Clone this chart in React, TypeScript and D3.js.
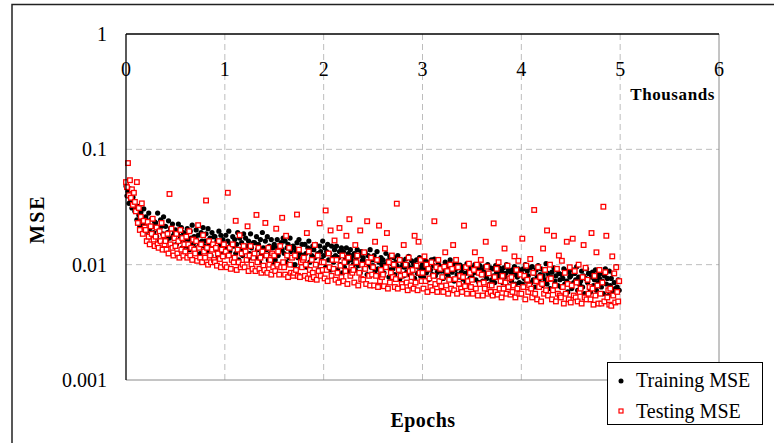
import React from "react";
import * as d3 from "d3";

// MSE values in units of 1e-4, one row per 100 epochs (sampled every 10 epochs)
const trainingMSE: number[] = [
  480, 395, 430, 340, 455, 360, 310, 385, 330, 290,
  300, 245, 320, 270, 215, 285, 250, 230, 305, 220,
  260, 195, 240, 280, 205, 175, 250, 215, 190, 235,
  230, 175, 280, 200, 160, 245, 215, 185, 260, 170,
  215, 160, 190, 240, 170, 205, 150, 225, 180, 195,
  200, 150, 185, 225, 160, 175, 210, 140, 190, 165,
  185, 145, 205, 165, 135, 195, 170, 220, 150, 175,
  170, 200, 140, 180, 155, 125, 190, 160, 210, 145,
  160, 185, 130, 205, 150, 170, 120, 190, 140, 175,
  175, 135, 160, 115, 195, 145, 180, 125, 165, 150,
  140, 180, 120, 160, 195, 130, 150, 115, 175, 145,
  165, 125, 150, 190, 110, 170, 135, 155, 120, 185,
  130, 170, 145, 110, 160, 125, 185, 140, 115, 155,
  155, 115, 175, 135, 150, 105, 165, 125, 190, 140,
  120, 160, 135, 175, 110, 145, 125, 165, 140, 105,
  150, 110, 140, 165, 120, 130, 100, 155, 135, 170,
  125, 160, 105, 140, 150, 115, 170, 130, 100, 145,
  140, 100, 130, 155, 115, 165, 125, 95, 150, 120,
  110, 150, 125, 95, 140, 160, 105, 135, 120, 145,
  135, 115, 150, 100, 125, 90, 145, 130, 110, 160,
  120, 140, 95, 130, 150, 110, 125, 90, 145, 115,
  105, 135, 120, 145, 90, 115, 130, 100, 140, 85,
  130, 95, 115, 140, 105, 125, 88, 135, 110, 120,
  100, 125, 90, 115, 135, 98, 120, 85, 130, 108,
  115, 92, 128, 105, 82, 120, 100, 135, 95, 110,
  98, 120, 88, 110, 130, 92, 105, 80, 115, 100,
  110, 85, 100, 125, 95, 108, 78, 118, 90, 102,
  92, 115, 82, 105, 98, 120, 88, 75, 110, 96,
  105, 80, 95, 112, 86, 100, 118, 82, 94, 108,
  88, 102, 76, 98, 110, 84, 95, 115, 80, 92,
  100, 78, 92, 108, 85, 96, 74, 104, 90, 110,
  82, 98, 112, 80, 94, 86, 102, 72, 96, 88,
  95, 76, 88, 105, 84, 98, 80, 92, 110, 74,
  86, 100, 72, 90, 104, 82, 94, 78, 99, 85,
  92, 75, 96, 84, 70, 102, 86, 94, 76, 90,
  78, 95, 85, 100, 74, 88, 92, 70, 98, 82,
  90, 72, 86, 96, 80, 76, 100, 84, 68, 94,
  74, 92, 80, 70, 98, 86, 78, 95, 82, 72,
  88, 70, 94, 78, 84, 100, 66, 90, 76, 86,
  72, 90, 82, 96, 68, 84, 78, 92, 70, 88,
  85, 68, 92, 76, 100, 72, 88, 80, 66, 94,
  70, 96, 74, 84, 64, 90, 78, 98, 72, 82,
  92, 66, 80, 88, 74, 102, 68, 84, 76, 62,
  78, 86, 60, 94, 72, 80, 90, 66, 84, 74,
  64, 82, 76, 92, 68, 88, 72, 58, 86, 78,
  80, 62, 90, 70, 84, 74, 96, 60, 78, 68,
  72, 88, 64, 80, 56, 76, 92, 70, 84, 62,
  58, 78, 86, 66, 74, 90, 60, 82, 70, 76,
  84, 64, 72, 56, 80, 92, 68, 76, 54, 88,
  66, 76, 58, 84, 70, 62, 96, 64, 74, 60,
];

const testingMSE: number[] = [
  520, 470, 760, 400, 540, 380, 450, 330, 420, 350,
  290, 520, 230, 310, 200, 260, 340, 185, 240, 210,
  200, 160, 235, 175, 150, 215, 185, 250, 165, 145,
  175, 210, 150, 140, 195, 160, 230, 135, 180, 150,
  160, 135, 185, 125, 410, 150, 205, 140, 120, 170,
  145, 185, 125, 160, 115, 200, 135, 170, 120, 150,
  130, 175, 115, 150, 195, 120, 140, 110, 165, 135,
  125, 160, 108, 220, 140, 115, 150, 105, 180, 130,
  115, 360, 140, 100, 160, 120, 105, 135, 150, 110,
  105, 140, 98, 125, 160, 112, 95, 135, 118, 150,
  100, 130, 95, 420, 120, 140, 92, 110, 150, 105,
  115, 240, 90, 135, 105, 180, 95, 125, 100, 145,
  95, 130, 110, 215, 88, 120, 145, 100, 92, 115,
  125, 88, 270, 105, 140, 92, 115, 85, 130, 98,
  90, 230, 120, 85, 140, 100, 110, 82, 125, 95,
  120, 88, 205, 100, 130, 82, 145, 95, 255, 105,
  95, 82, 178, 120, 78, 140, 100, 85, 115, 80,
  85, 120, 90, 272, 80, 135, 78, 105, 95, 110,
  115, 80, 100, 188, 76, 130, 90, 75, 110, 85,
  78, 148, 100, 74, 120, 88, 228, 80, 105, 90,
  105, 76, 295, 90, 72, 125, 95, 198, 80, 110,
  92, 162, 74, 110, 85, 70, 208, 98, 78, 120,
  72, 105, 88, 178, 68, 115, 248, 80, 95, 85,
  90, 70, 148, 105, 120, 66, 85, 198, 75, 100,
  74, 128, 92, 68, 238, 105, 80, 66, 115, 82,
  95, 66, 158, 80, 110, 64, 218, 72, 90, 78,
  82, 65, 138, 95, 188, 62, 105, 70, 85, 120,
  78, 100, 64, 75, 338, 62, 90, 110, 80, 68,
  64, 148, 82, 100, 70, 60, 115, 88, 66, 78,
  90, 62, 178, 70, 98, 60, 158, 85, 110, 72,
  85, 62, 118, 72, 100, 58, 92, 76, 64, 105,
  60, 80, 238, 68, 95, 58, 110, 72, 92, 65,
  78, 58, 96, 128, 66, 88, 56, 74, 100, 62,
  92, 148, 60, 75, 110, 56, 95, 68, 80, 62,
  58, 78, 218, 65, 95, 56, 72, 102, 85, 64,
  74, 56, 90, 128, 62, 100, 54, 85, 68, 110,
  82, 54, 70, 62, 158, 96, 56, 84, 66, 58,
  66, 54, 228, 78, 58, 92, 55, 105, 62, 72,
  52, 80, 62, 138, 70, 56, 98, 64, 76, 55,
  78, 58, 66, 118, 52, 90, 62, 108, 56, 82,
  56, 168, 64, 80, 50, 98, 74, 58, 66, 112,
  62, 52, 85, 298, 56, 72, 50, 95, 64, 78,
  48, 68, 138, 56, 90, 60, 198, 54, 75, 100,
  76, 50, 60, 178, 66, 48, 92, 56, 120, 54,
  52, 108, 64, 46, 85, 56, 158, 68, 50, 95,
  47, 66, 168, 54, 88, 52, 70, 48, 100, 58,
  62, 46, 78, 148, 52, 94, 50, 74, 56, 64,
  50, 188, 62, 45, 80, 54, 128, 66, 46, 90,
  56, 46, 70, 318, 48, 86, 178, 52, 60, 45,
  62, 44, 118, 54, 84, 47, 95, 58, 48, 72,
];

const xTicks = [0, 1, 2, 3, 4, 5, 6];
const yTicks = [0.001, 0.01, 0.1, 1];
const yTickLabels = ["0.001", "0.01", "0.1", "1"];
const seriesNames = ["Training MSE", "Testing MSE"];

const serif = "'Liberation Serif', 'Times New Roman', 'DejaVu Serif', serif";

export default function App() {
  const left = 126, right = 719, top = 34, bottom = 380;

  const x = d3.scaleLinear().domain([0, 6]).range([left, right]);
  const y = d3.scaleLog().domain([0.001, 1]).range([bottom, top]);

  // epochs in thousands, one sample every 10 epochs
  const epoch = (i: number) => (i * 10) / 1000;

  return (
    <svg width={774} height={443} style={{ position: "absolute", left: 0, top: 0, background: "#fff" }}>
      {/* outer chart frame */}
      <rect x={12} y={4.5} width={800} height={480} fill="#fff" stroke="#222" strokeWidth={1.5} />

      {/* grid */}
      {yTicks.slice(1, 3).map((t) => (
        <line key={"gy" + t} x1={left} x2={right} y1={y(t)} y2={y(t)} stroke="#bdbdbd" strokeDasharray="6,4" />
      ))}
      {xTicks.slice(1, 6).map((t) => (
        <line key={"gx" + t} x1={x(t)} x2={x(t)} y1={top} y2={bottom} stroke="#bdbdbd" strokeDasharray="6,4" />
      ))}

      {/* plot area border */}
      <line x1={right} x2={right} y1={top} y2={bottom} stroke="#8a8a8a" />
      <line x1={left} x2={right} y1={bottom} y2={bottom} stroke="#8a8a8a" />

      {/* training points */}
      <g>
        {trainingMSE.map((v, i) => (
          <circle key={"tr" + i} cx={x(epoch(i))} cy={y(v / 10000)} r={2.6} fill="#000" />
        ))}
      </g>
      {/* testing points */}
      <g>
        {testingMSE.map((v, i) => (
          <rect
            key={"te" + i}
            x={x(epoch(i)) - 2.3}
            y={y(v / 10000) - 2.3}
            width={4.6}
            height={4.6}
            fill="#fff"
            stroke="#ff0000"
            strokeWidth={1.3}
          />
        ))}
      </g>

      {/* axes */}
      <line x1={left} x2={right} y1={top} y2={top} stroke="#000" strokeWidth={1.3} />
      <line x1={left} x2={left} y1={top} y2={bottom} stroke="#000" strokeWidth={1.3} />

      {xTicks.map((t) => (
        <text key={"xt" + t} x={x(t)} y={76} textAnchor="middle" fontFamily={serif} fontSize={20}>
          {t}
        </text>
      ))}
      {yTicks.map((t, i) => (
        <text key={"yt" + t} x={107} y={y(t)} dy="0.35em" textAnchor="end" fontFamily={serif} fontSize={20}>
          {yTickLabels[i]}
        </text>
      ))}

      <text x={715} y={100} textAnchor="end" fontFamily={serif} fontSize={17} fontWeight="bold" letterSpacing={0.6}>
        Thousands
      </text>
      <text
        transform="translate(44,219) rotate(-90)"
        textAnchor="middle"
        fontFamily={serif}
        fontSize={20}
        fontWeight="bold"
        letterSpacing={2}
      >
        MSE
      </text>
      <text x={423} y={427} textAnchor="middle" fontFamily={serif} fontSize={20} fontWeight="bold" letterSpacing={0.5}>
        Epochs
      </text>

      {/* legend */}
      <g>
        <rect x={607.5} y={362.5} width={155} height={62} fill="#fff" stroke="#000" />
        <circle cx={621} cy={381} r={2.5} fill="#000" />
        <text x={636} y={387} fontFamily={serif} fontSize={20}>
          {seriesNames[0]}
        </text>
        <rect x={619} y={409} width={4} height={4} fill="#fff" stroke="#ff0000" strokeWidth={1.2} />
        <text x={636} y={418} fontFamily={serif} fontSize={20}>
          {seriesNames[1]}
        </text>
      </g>
    </svg>
  );
}
